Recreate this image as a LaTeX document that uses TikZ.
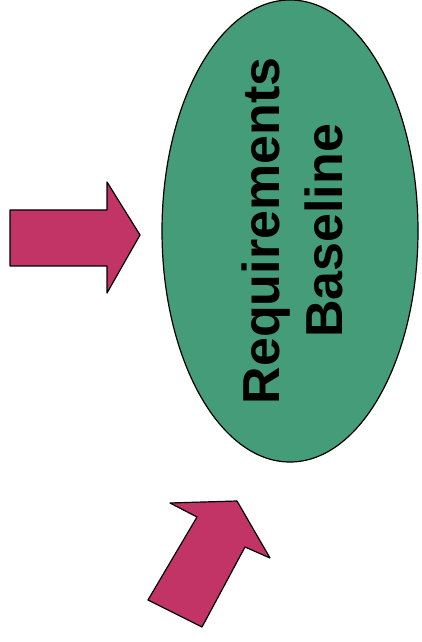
\documentclass[tikz,border=0pt]{standalone}
\usepackage{fontspec}
\setmainfont{Liberation Sans}
\definecolor{ovalgreen}{RGB}{68,156,120}
\definecolor{arrowred}{RGB}{194,52,102}
\tikzset{
  blockarrow/.style={draw=black, fill=arrowred, line width=1.2pt},
}
\begin{document}
\begin{tikzpicture}[x=1pt, y=1pt, line join=round, line cap=round]
	\useasboundingbox (0,0) rectangle (422,642);
	\draw[fill=ovalgreen, line width=1.2pt] (290,411) ellipse [x radius=128, y radius=231];
	\node (reqbase) at(292,411)[rotate=90, align=center, font=\bfseries\fontsize{52}{63}\selectfont]{Requirements\\Baseline};
	\draw[blockarrow] (10,432)--(107,432)--(107,460)--(140,407)--(107,349)--(107,376)--(10,376)--cycle;
	\draw[blockarrow] (148,42)--(197,125)--(170,139)--(237,141)--(270,84)--(245,95)--(202,15)--cycle;
\end{tikzpicture}
\end{document}
